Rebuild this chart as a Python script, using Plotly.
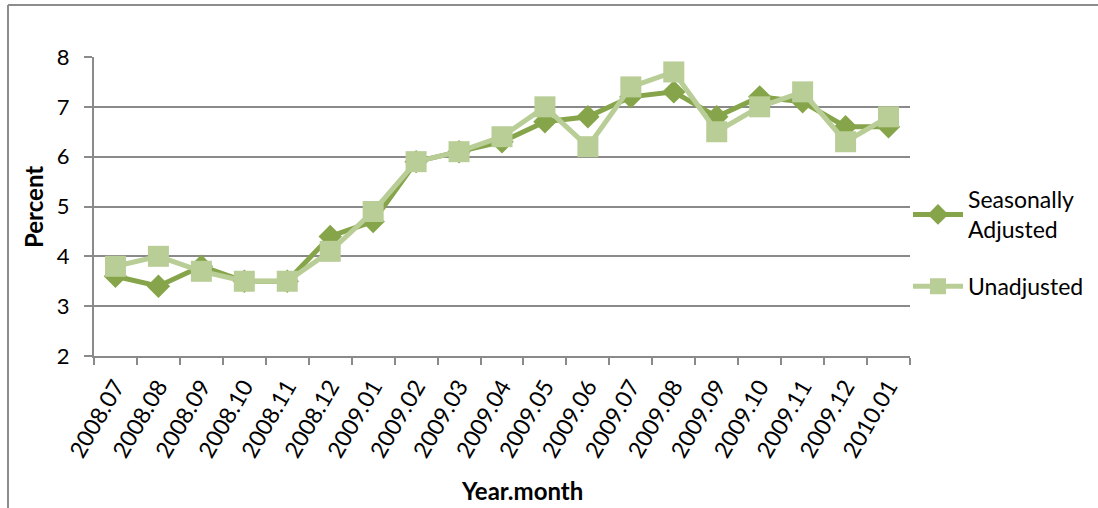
import plotly.graph_objects as go

# Monthly rate, July 2008 to January 2010
months = ["2008.07", "2008.08", "2008.09", "2008.10", "2008.11", "2008.12",
          "2009.01", "2009.02", "2009.03", "2009.04", "2009.05", "2009.06",
          "2009.07", "2009.08", "2009.09", "2009.10", "2009.11", "2009.12",
          "2010.01"]
seasonally_adjusted = [3.6, 3.4, 3.8, 3.5, 3.5, 4.4, 4.7, 5.9, 6.1, 6.3,
                       6.7, 6.8, 7.2, 7.3, 6.8, 7.2, 7.1, 6.6, 6.6]
unadjusted = [3.8, 4.0, 3.7, 3.5, 3.5, 4.1, 4.9, 5.9, 6.1, 6.4,
              7.0, 6.2, 7.4, 7.7, 6.5, 7.0, 7.3, 6.3, 6.8]
y_ticks = [2, 3, 4, 5, 6, 7, 8]

W, H = 1098, 508
L, R, T, B = 94, 188, 57, 152
pw, ph = W - L - R, H - T - B

def px_x(p):
    return (p - L) / pw

def px_y(p):
    return (H - B - p) / ph

FONT = "Lato, 'Open Sans', sans-serif"
GRID = "#8a8a8a"

fig = go.Figure()
fig.add_trace(go.Scatter(
    x=months, y=seasonally_adjusted, name="Seasonally<br>Adjusted",
    legendgroup="sa", mode="lines+markers",
    line=dict(color="#86a44a", width=5),
    marker=dict(symbol="diamond", size=18, color="#86a44a"),
))
fig.add_trace(go.Scatter(
    x=months, y=unadjusted, name="Unadjusted",
    legendgroup="ua", mode="lines+markers",
    line=dict(color="#b9cd96", width=5),
    marker=dict(symbol="square", size=21, color="#b9cd96"),
))

fig.update_layout(
    width=W, height=H,
    margin=dict(l=L, r=R, t=T, b=B, autoexpand=False),
    paper_bgcolor="white", plot_bgcolor="white",
    font=dict(family=FONT, size=22, color="black"),
    showlegend=True,
    legend=dict(x=px_x(908), y=px_y(243), xanchor="left", yanchor="middle",
                font=dict(size=23), traceorder="grouped", tracegroupgap=24,
                itemwidth=50, bgcolor="rgba(0,0,0,0)"),
    xaxis=dict(
        type="category", showgrid=False, showline=True, linecolor=GRID,
        linewidth=2, ticks="outside", tickson="boundaries", ticklen=7,
        tickcolor=GRID, tickwidth=2, tickangle=-60,
        tickfont=dict(size=23), ticklabelstandoff=6,
        range=[-0.5, len(months) - 0.5],
    ),
    yaxis=dict(
        range=[2, 8], tickvals=y_ticks, showgrid=True, gridcolor=GRID,
        gridwidth=2, showline=True, linecolor=GRID, linewidth=2,
        ticks="outside", ticklen=8, tickcolor=GRID, tickwidth=2,
        tickfont=dict(size=22), ticklabelstandoff=10, zeroline=False,
    ),
    annotations=[
        dict(text="<b>Year.month</b>", x=px_x(522), y=px_y(490),
             xref="paper", yref="paper", showarrow=False,
             font=dict(size=24), xanchor="center", yanchor="middle"),
        dict(text="<b>Percent</b>", x=px_x(33), y=px_y(207),
             xref="paper", yref="paper", showarrow=False, textangle=-90,
             font=dict(size=24), xanchor="center", yanchor="middle"),
    ],
    shapes=[
        dict(type="line", xref="paper", yref="paper",
             x0=px_x(8), x1=px_x(8), y0=px_y(510), y1=px_y(5),
             line=dict(color="#8c8c8c", width=2)),
        dict(type="line", xref="paper", yref="paper",
             x0=px_x(8), x1=px_x(1098), y0=px_y(5), y1=px_y(5),
             line=dict(color="#8c8c8c", width=2)),
    ],
)

fig.write_html("out.html")
